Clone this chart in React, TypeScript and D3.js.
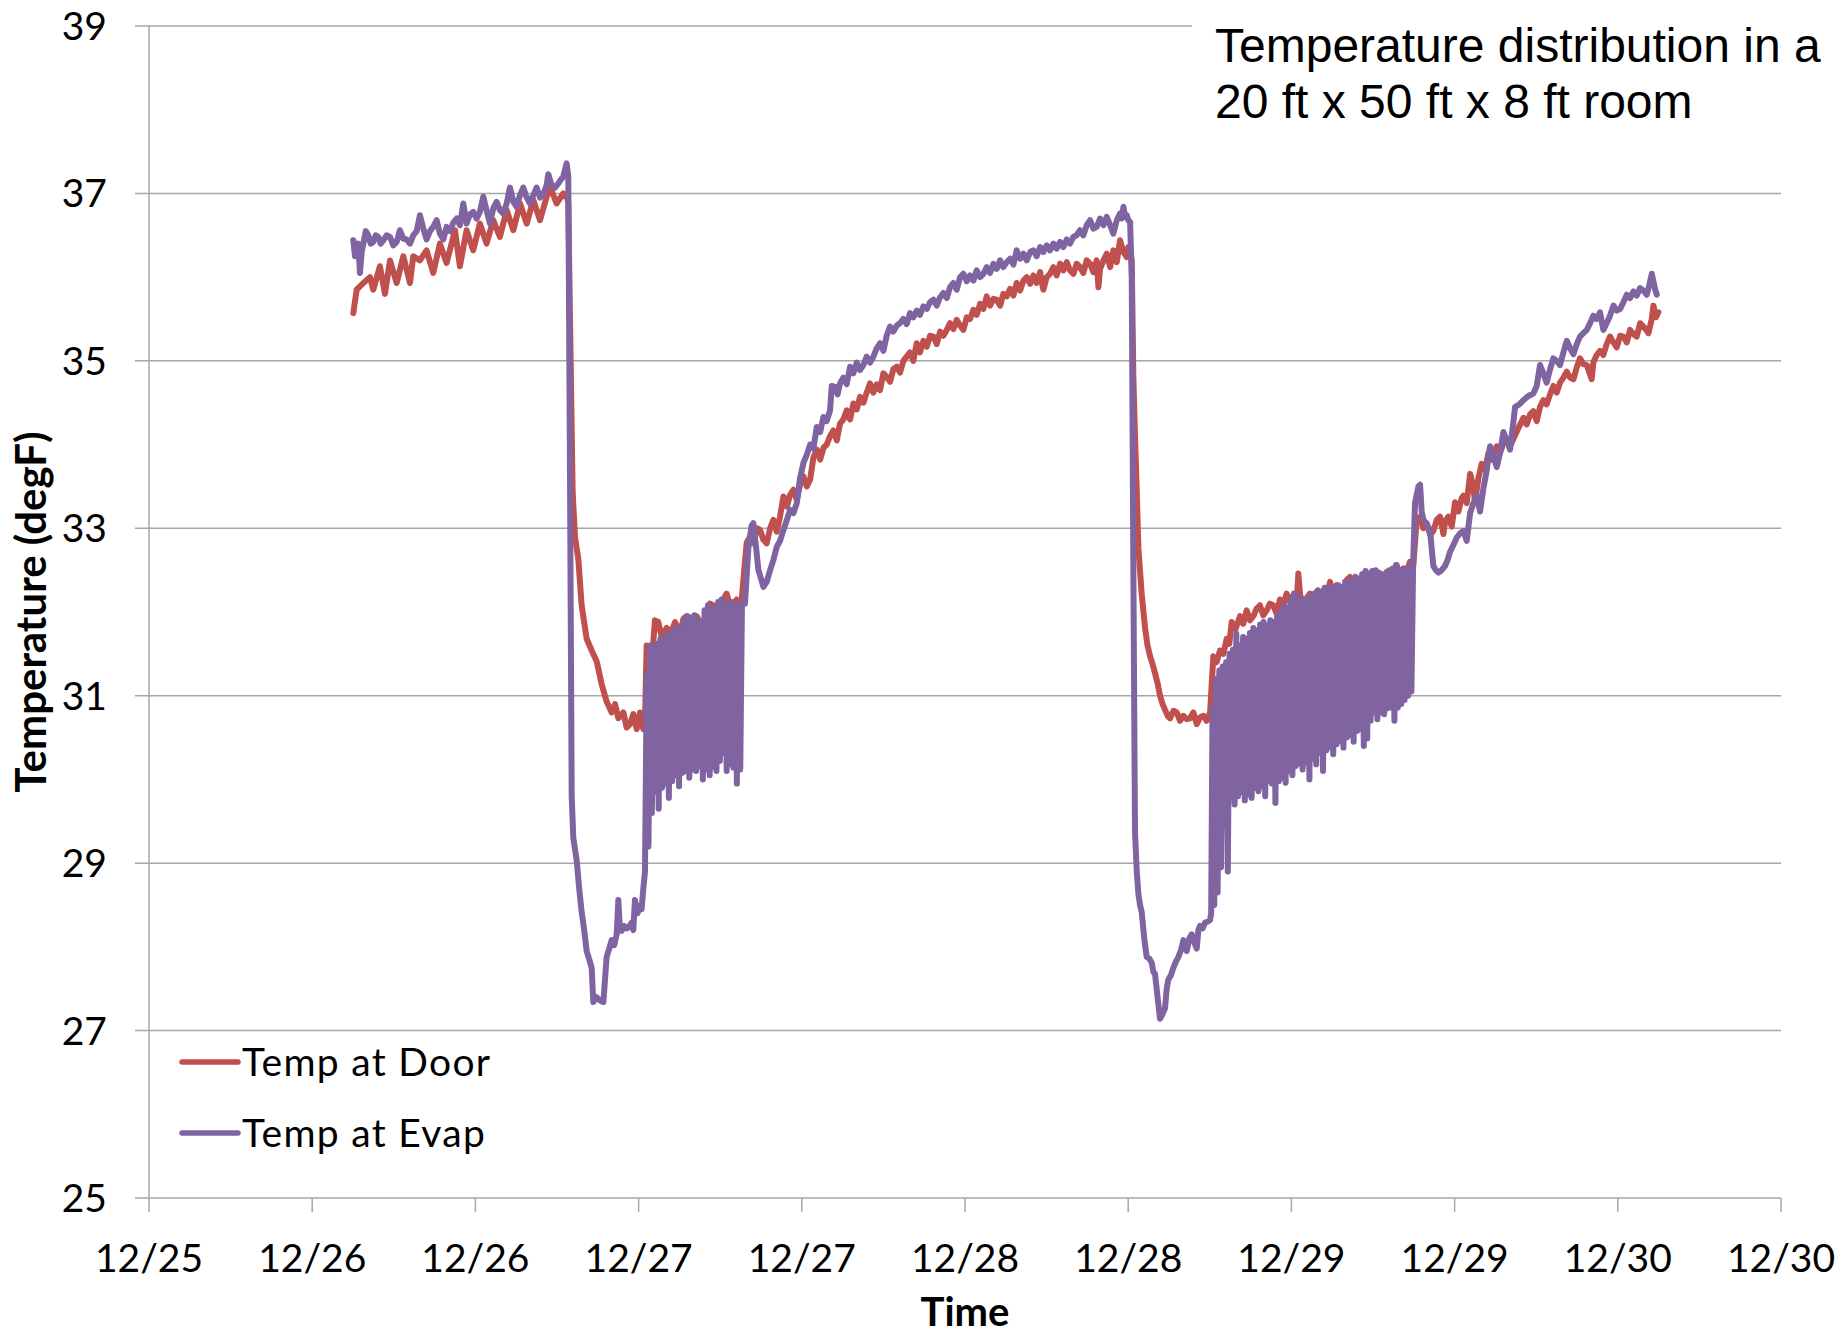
import React from 'react';
import * as d3 from 'd3';

// readings: [hours after 12/25 12:00, degF]
const doorReadings: [number, number][] = [
  [15.02,35.57],[15.27,35.85],[15.76,35.93],[16.25,36.0],[16.49,35.85],[16.98,36.13],[17.35,35.8],[17.72,36.2],[18.21,35.93],[18.7,36.25],[19.19,35.93],[19.43,36.25],[19.92,36.2],[20.41,36.32],[20.9,36.05],[21.39,36.4],[21.88,36.17],[22.5,36.56],[22.86,36.13],[23.35,36.56],[23.84,36.32],[24.33,36.64],[24.82,36.4],[25.31,36.68],[25.8,36.48],[26.3,36.8],[26.79,36.56],[27.28,36.88],[27.77,36.64],[28.26,36.92],[28.75,36.68],[29.24,36.96],[29.48,37.08],[29.97,36.88],[30.46,37.0],[30.71,36.96],[30.83,36.9],
  [30.96,35.47],[31.15,33.44],[31.32,32.9],[31.57,32.63],[31.81,32.08],[32.18,31.68],[32.55,31.54],[32.92,31.41],[33.28,31.14],[33.65,30.93],[34.02,30.8],[34.27,30.9],[34.51,30.73],[34.88,30.8],[35.12,30.62],[35.37,30.66],[35.61,30.78],[35.86,30.6],[36.1,30.8],[36.35,30.6],[36.47,30.7],
  [36.59,31.6],[36.83,31.45],[37.08,31.64],[37.2,31.9],[37.45,31.88],[37.7,31.7],[38.06,31.81],[38.3,31.72],[38.68,31.88],[39.04,31.74],[39.3,31.92],[39.53,31.95],[39.9,31.8],[40.27,31.95],[40.6,31.85],[41.0,31.95],[41.25,32.1],[41.49,32.08],[41.8,31.96],[42.23,32.15],[42.47,32.22],[42.8,32.04],[43.21,32.15],[43.45,32.02],[43.58,32.15],
  [43.82,32.6],[43.95,32.83],[44.2,32.9],[44.44,32.82],[44.69,33.0],[44.93,32.98],[45.18,32.86],[45.42,32.82],[45.67,33.0],[45.91,33.1],[46.16,32.96],[46.4,33.14],[46.65,33.38],[46.9,33.26],[47.14,33.4],[47.38,33.46],[47.63,33.34],[47.87,33.52],[48.12,33.62],[48.37,33.5],[48.61,33.58],[48.85,33.84],[49.1,33.94],[49.35,33.82],[49.59,33.96],[49.83,34.0],[50.08,34.1],[50.32,34.17],[50.57,34.05],[50.81,34.25],[51.06,34.3],[51.3,34.41],[51.55,34.3],[51.79,34.49],[52.04,34.42],[52.28,34.57],[52.53,34.5],[52.77,34.62],[53.02,34.73],[53.26,34.62],[53.51,34.72],[53.75,34.65],[54.0,34.85],[54.24,34.81],[54.49,34.75],[54.73,34.9],[54.98,34.93],[55.22,34.86],[55.47,35.0],[55.71,35.05],[55.96,35.1],[56.2,35.0],[56.45,35.21],[56.69,35.1],[56.94,35.24],[57.19,35.17],[57.43,35.3],[57.68,35.29],[57.92,35.2],[58.17,35.35],[58.41,35.3],[58.66,35.37],[58.9,35.45],[59.15,35.38],[59.39,35.49],[59.64,35.42],[59.88,35.37],[60.13,35.52],[60.37,35.5],[60.62,35.61],[60.86,35.55],[61.11,35.68],[61.35,35.62],[61.6,35.77],[61.84,35.66],[62.09,35.74],[62.33,35.73],[62.58,35.66],[62.82,35.8],[63.07,35.77],[63.31,35.86],[63.56,35.78],[63.8,35.93],[64.05,35.84],[64.3,35.96],[64.54,36.0],[64.79,35.92],[65.03,36.02],[65.27,35.93],[65.52,36.06],[65.76,35.85],[66.01,36.0],[66.25,36.04],[66.5,36.12],[66.74,36.02],[66.99,36.16],[67.23,36.08],[67.48,36.18],[67.72,36.08],[67.97,36.04],[68.21,36.16],[68.46,36.12],[68.7,36.05],[68.95,36.2],[69.2,36.16],[69.44,36.06],[69.68,36.2],[69.81,35.88],[69.93,36.1],[70.18,36.2],[70.42,36.28],[70.67,36.12],[70.91,36.32],[71.16,36.18],[71.4,36.44],[71.65,36.3],[71.89,36.24],[72.01,36.36],[72.14,36.3],[72.26,36.2],
  [72.38,34.8],[72.5,34.1],[72.63,33.44],[72.75,32.76],[72.99,32.22],[73.24,31.81],[73.42,31.6],[73.61,31.47],[73.79,31.38],[73.97,31.27],[74.16,31.15],[74.34,31.0],[74.53,30.9],[74.71,30.83],[74.9,30.76],[75.08,30.73],[75.33,30.82],[75.57,30.8],[75.81,30.7],[76.06,30.76],[76.3,30.72],[76.55,30.73],[76.79,30.8],[77.04,30.66],[77.28,30.74],[77.53,30.76],[77.77,30.7],[78.02,30.8],
  [78.26,31.47],[78.5,31.4],[78.75,31.54],[79.0,31.5],[79.24,31.68],[79.43,31.62],[79.61,31.88],[79.9,31.8],[80.22,31.95],[80.46,31.86],[80.71,32.02],[80.95,31.9],[81.2,31.95],[81.44,32.04],[81.69,32.08],[81.93,31.96],[82.18,32.02],[82.42,32.1],[82.67,32.08],[82.91,31.98],[83.16,32.15],[83.4,32.08],[83.65,32.22],[83.9,32.12],[84.15,32.2],[84.4,32.14],[84.51,32.46],[84.64,32.2],[84.76,31.95],[85.0,32.14],[85.37,32.22],[85.62,32.1],[85.86,32.24],[86.11,32.15],[86.35,32.26],[86.6,32.2],[86.84,32.36],[87.09,32.22],[87.33,32.32],[87.58,32.29],[87.82,32.2],[88.07,32.38],[88.31,32.42],[88.56,32.3],[88.8,32.4],[89.05,32.36],[89.29,32.3],[89.54,32.44],[89.78,32.42],[90.03,32.34],[90.27,32.44],[90.52,32.38],[90.76,32.42],[91.01,32.48],[91.25,32.38],[91.5,32.5],[91.74,32.56],[91.99,32.44],[92.23,32.52],[92.48,32.49],[92.72,32.6],[92.97,32.56],
  [93.21,33.1],[93.46,33.14],[93.7,33.0],[93.95,33.06],[94.2,32.92],[94.44,32.97],[94.69,33.1],[94.93,33.14],[95.18,32.93],[95.3,33.08],[95.54,33.14],[95.79,33.02],[96.03,33.31],[96.28,33.2],[96.52,33.36],[96.65,33.39],[96.89,33.3],[97.14,33.65],[97.38,33.5],[97.5,33.31],[97.75,33.6],[97.99,33.77],[98.24,33.7],[98.49,33.9],[98.73,33.82],[99.1,33.98],[99.34,33.9],[99.59,34.02],[99.83,34.07],[100.08,33.98],[100.45,34.11],[100.7,34.2],[101.06,34.32],[101.3,34.24],[101.55,34.36],[101.79,34.4],[102.04,34.28],[102.28,34.45],[102.53,34.53],[102.77,34.48],[103.02,34.6],[103.26,34.7],[103.51,34.62],[103.75,34.74],[104.0,34.8],[104.25,34.87],[104.49,34.8],[104.74,34.78],[104.98,34.92],[105.22,35.03],[105.47,34.96],[105.72,34.95],[106.08,34.78],[106.2,34.98],[106.45,35.07],[106.69,35.12],[106.94,35.07],[107.18,35.2],[107.43,35.29],[107.68,35.22],[107.92,35.16],[108.17,35.3],[108.41,35.29],[108.66,35.22],[108.9,35.37],[109.15,35.32],[109.39,35.29],[109.64,35.45],[109.88,35.41],[110.13,35.36],[110.25,35.33],[110.5,35.5],[110.62,35.66],[110.8,35.52],[110.98,35.58],
];

const evapBeforeCycling1: [number, number][] = [
  [15.02,36.44],[15.15,36.25],[15.27,36.3],[15.4,36.4],[15.51,36.05],[15.64,36.3],[15.76,36.4],[15.94,36.55],[16.12,36.5],[16.3,36.4],[16.49,36.42],[16.67,36.5],[16.86,36.48],[17.04,36.4],[17.23,36.44],[17.47,36.5],[17.72,36.48],[17.96,36.38],[18.21,36.42],[18.45,36.56],[18.7,36.46],[18.94,36.45],[19.19,36.4],[19.43,36.5],[19.68,36.55],[19.92,36.74],[20.17,36.58],[20.41,36.45],[20.66,36.55],[20.9,36.6],[21.15,36.68],[21.39,36.52],[21.64,36.45],[21.88,36.6],[22.13,36.55],[22.37,36.65],[22.62,36.7],[22.86,36.62],[23.11,36.88],[23.35,36.64],[23.6,36.75],[23.84,36.78],[24.09,36.7],[24.33,36.78],[24.58,36.96],[24.82,36.8],[25.07,36.64],[25.31,36.82],[25.56,36.9],[25.8,36.8],[26.05,36.76],[26.3,36.88],[26.54,37.07],[26.79,36.9],[27.03,36.84],[27.28,36.98],[27.52,37.07],[27.77,36.95],[28.01,36.88],[28.26,36.98],[28.5,37.07],[28.75,36.95],[28.99,36.99],[29.24,37.1],[29.36,37.23],[29.6,37.1],[29.85,37.07],[30.1,37.12],[30.22,37.15],[30.46,37.2],[30.71,37.36],[30.83,37.2],
  [30.96,33.5],[31.08,29.8],[31.2,29.3],[31.45,29.03],[31.63,28.7],[31.81,28.42],[32.0,28.2],[32.18,27.95],[32.37,27.85],[32.55,27.75],[32.67,27.34],[32.9,27.4],[33.16,27.36],[33.41,27.34],[33.65,27.88],[33.84,27.98],[34.02,28.08],[34.2,28.02],[34.39,28.15],[34.51,28.56],[34.63,28.2],[34.75,28.19],[34.94,28.25],[35.12,28.22],[35.3,28.24],[35.49,28.29],[35.61,28.2],[35.73,28.56],[35.92,28.4],[36.1,28.49],[36.22,28.45],[36.35,28.7],[36.47,28.9],
];

// compressor cycling at the evaporator, one reading every 7.5 min
const cycling1Start = 36.6;
const cycling1Temps = [
  31.25,29.2,31.6,29.6,31.55,29.85,31.62,29.65,31.68,29.9,31.65,29.95,31.74,29.78,31.7,29.98,31.78,30.05,31.82,29.92,
  31.75,30.08,31.9,30.1,31.95,30.02,31.93,30.12,31.96,30.1,31.9,30.16,31.88,30.0,32.02,30.12,32.08,30.05,32.0,30.15,
  32.04,30.1,32.12,30.22,32.15,30.32,32.1,30.1,32.08,30.18,32.12,30.14,32.05,29.95,32.1,30.12,32.1,
];

const evapBetweenCycling: [number, number][] = [
  [43.82,32.1],[44.07,32.76],[44.31,33.03],[44.44,33.06],[44.62,32.8],[44.81,32.5],[45.0,32.4],[45.18,32.3],[45.42,32.36],[45.67,32.5],[45.91,32.62],[46.16,32.78],[46.4,32.85],[46.65,32.98],[46.9,33.1],[47.14,33.22],[47.38,33.18],[47.63,33.3],[47.87,33.6],[48.12,33.78],[48.37,33.88],[48.61,34.0],[48.85,33.95],[49.1,34.21],[49.35,34.15],[49.59,34.33],[49.83,34.28],[50.08,34.41],[50.2,34.7],[50.45,34.69],[50.63,34.6],[50.81,34.73],[51.06,34.8],[51.3,34.72],[51.55,34.93],[51.79,34.85],[52.04,34.98],[52.28,34.89],[52.53,34.95],[52.77,35.05],[53.02,34.98],[53.26,35.05],[53.51,35.15],[53.75,35.21],[54.0,35.12],[54.24,35.3],[54.49,35.41],[54.73,35.35],[54.98,35.42],[55.22,35.45],[55.47,35.5],[55.71,35.44],[55.96,35.57],[56.2,35.52],[56.45,35.6],[56.69,35.55],[56.94,35.65],[57.19,35.62],[57.43,35.7],[57.68,35.73],[57.92,35.66],[58.17,35.76],[58.41,35.81],[58.66,35.75],[58.9,35.88],[59.15,35.93],[59.39,35.85],[59.64,36.0],[59.88,36.04],[60.13,35.95],[60.37,36.02],[60.62,35.96],[60.86,36.08],[61.11,36.0],[61.35,36.04],[61.6,36.12],[61.84,36.05],[62.09,36.16],[62.33,36.1],[62.58,36.2],[62.82,36.12],[63.07,36.18],[63.31,36.22],[63.56,36.15],[63.8,36.32],[64.05,36.22],[64.3,36.28],[64.54,36.2],[64.79,36.3],[65.03,36.32],[65.27,36.25],[65.52,36.36],[65.76,36.3],[66.01,36.38],[66.25,36.32],[66.5,36.4],[66.74,36.34],[66.99,36.42],[67.23,36.36],[67.48,36.45],[67.72,36.4],[67.97,36.48],[68.21,36.5],[68.46,36.56],[68.7,36.5],[68.95,36.62],[69.2,36.68],[69.44,36.58],[69.68,36.6],[69.93,36.7],[70.18,36.62],[70.42,36.72],[70.67,36.62],[70.91,36.52],[71.16,36.68],[71.4,36.76],[71.52,36.7],[71.65,36.84],[71.77,36.72],[71.89,36.74],[72.01,36.68],[72.14,36.66],
  [72.26,36.0],[72.38,32.5],[72.5,29.37],[72.63,28.9],[72.75,28.63],[72.87,28.5],[72.99,28.42],[73.18,28.1],[73.36,27.88],[73.55,27.86],[73.73,27.81],[73.85,27.7],[73.97,27.68],[74.16,27.4],[74.34,27.14],[74.53,27.2],[74.71,27.27],[74.83,27.5],[74.95,27.61],[75.14,27.66],[75.32,27.75],[75.5,27.82],[75.69,27.88],[75.88,27.96],[76.06,28.08],[76.18,28.02],[76.3,27.95],[76.49,28.1],[76.67,28.15],[76.86,28.05],[77.04,27.98],[77.16,28.2],[77.28,28.25],[77.47,28.22],[77.65,28.29],[77.83,28.3],[78.02,28.32],[78.1,28.4],
];

const cycling2Start = 78.2;
const cycling2Temps = [
  30.86,28.5,31.2,28.65,31.3,28.95,31.35,29.45,31.4,28.9,31.5,29.78,31.55,29.7,31.74,29.8,31.6,29.85,31.7,29.75,
  31.68,29.82,31.75,29.78,31.81,29.9,31.78,29.86,31.85,29.92,31.88,29.8,31.84,29.98,31.9,29.95,31.88,29.72,31.95,29.98,
  32.0,30.02,32.08,29.96,32.05,30.1,32.15,30.05,32.22,30.16,32.1,30.19,32.18,30.12,32.15,30.2,32.12,30.0,32.2,30.25,
  32.22,30.18,32.26,30.32,32.2,30.1,32.29,30.35,32.25,30.39,32.3,30.3,32.29,30.42,32.32,30.46,32.3,30.38,32.36,30.5,
  32.34,30.53,32.38,30.45,32.42,30.58,32.4,30.6,32.45,30.4,32.49,30.49,32.46,30.7,32.49,30.8,32.5,30.72,32.47,30.8,
  32.45,30.78,32.42,30.85,32.5,30.86,32.52,30.7,32.56,30.86,32.5,30.9,32.49,30.95,32.52,31.0,32.55,31.05,32.56,
];
const cyclingStep = 0.125;

const evapAfterCycling2: [number, number][] = [
  [93.09,33.3],[93.34,33.5],[93.46,33.52],[93.58,33.2],[93.71,33.1],[93.95,33.05],[94.2,32.97],[94.32,32.75],[94.44,32.55],[94.62,32.5],[94.81,32.47],[95.05,32.5],[95.3,32.55],[95.48,32.62],[95.67,32.72],[95.91,32.8],[96.16,32.89],[96.4,32.94],[96.65,32.97],[96.89,32.85],[97.14,33.18],[97.38,33.3],[97.63,33.39],[97.87,33.2],[98.12,33.48],[98.37,33.7],[98.61,33.98],[98.86,33.85],[99.1,33.73],[99.34,33.9],[99.59,34.15],[99.83,34.05],[100.08,33.94],[100.27,34.2],[100.45,34.45],[100.76,34.48],[101.06,34.53],[101.42,34.58],[101.79,34.61],[102.04,34.7],[102.28,34.95],[102.53,34.85],[102.77,34.74],[103.02,34.9],[103.26,35.03],[103.51,35.0],[103.75,34.95],[104.0,35.1],[104.25,35.24],[104.49,35.15],[104.74,35.08],[104.98,35.2],[105.22,35.29],[105.47,35.33],[105.72,35.37],[105.96,35.45],[106.2,35.54],[106.45,35.5],[106.69,35.58],[106.94,35.37],[107.18,35.45],[107.43,35.54],[107.68,35.66],[107.92,35.6],[108.17,35.62],[108.41,35.7],[108.66,35.79],[108.9,35.75],[109.15,35.83],[109.39,35.78],[109.64,35.87],[109.88,35.84],[110.13,35.79],[110.31,35.9],[110.5,36.04],[110.62,35.95],[110.75,35.85],[110.87,35.79],
];

const seriesNames = ['Temp at Door', 'Temp at Evap'];
const seriesColors = ['#C0504D', '#8064A2'];
const yTicks = [25, 27, 29, 31, 33, 35, 37, 39];
const titleLines = ['Temperature distribution in a', '20 ft x 50 ft x 8 ft room'];

const W = 1841;
const H = 1338;
const left = 149, right = 1781, top = 26, bottom = 1198;
const start = new Date(2011, 11, 25, 12);
const end = d3.timeHour.offset(start, 120);

const cycle = (t0: number, vals: number[]): [number, number][] =>
  vals.map((v, i) => [t0 + i * cyclingStep, v] as [number, number]);

const evapReadings: [number, number][] = [
  ...evapBeforeCycling1,
  ...cycle(cycling1Start, cycling1Temps),
  ...evapBetweenCycling,
  ...cycle(cycling2Start, cycling2Temps),
  ...evapAfterCycling2,
];

const App = () => {
  const x = d3.scaleTime().domain([start, end]).range([left, right]);
  const y = d3.scaleLinear().domain([25, 39]).range([bottom, top]);
  const xTicks = x.ticks(d3.timeHour.every(12) as any);
  const fmt = d3.timeFormat('%m/%d');
  const toDate = (h: number) => new Date(start.getTime() + h * 3600 * 1000);
  const line = d3.line<[number, number]>()
    .x(d => x(toDate(d[0])))
    .y(d => y(d[1]));
  const grid = '#a6a6a6';
  const font = 'Lato, sans-serif';
  const lw = 6;

  return (
    <svg width={W} height={H} style={{ position: 'absolute', left: 0, top: 0, background: '#fff' }}>
      <rect width={W} height={H} fill="#fff" />
      {yTicks.map(t => (
        <line key={t} x1={left - 14} x2={right} y1={y(t)} y2={y(t)} stroke={grid} strokeWidth={1.5} />
      ))}
      <line x1={left} x2={left} y1={top} y2={bottom} stroke={grid} strokeWidth={1.5} />
      {xTicks.map((t, i) => (
        <g key={i}>
          <line x1={x(t)} x2={x(t)} y1={bottom} y2={bottom + 14} stroke={grid} strokeWidth={1.5} />
          <text x={x(t)} y={1272} textAnchor="middle" fontFamily={font} fontSize={39} fill="#000">{fmt(t)}</text>
        </g>
      ))}
      {yTicks.map(t => (
        <text key={t} x={107} y={y(t) + 14} textAnchor="end" fontFamily={font} fontSize={39} fill="#000">{t}</text>
      ))}
      <rect x={1192} y={0} width={W - 1192} height={150} fill="#fff" />
      {titleLines.map((s, i) => (
        <text key={i} x={1215} y={62 + i * 56} fontFamily="'Liberation Sans', Arial, sans-serif" fontSize={48} fill="#000">{s}</text>
      ))}
      <path d={line(doorReadings) || ''} fill="none" stroke={seriesColors[0]} strokeWidth={lw} strokeLinejoin="round" strokeLinecap="round" />
      <path d={line(evapReadings) || ''} fill="none" stroke={seriesColors[1]} strokeWidth={lw} strokeLinejoin="round" strokeLinecap="round" />
      {seriesNames.map((s, i) => (
        <g key={s}>
          <line x1={182} x2={238} y1={1062 + i * 71} y2={1062 + i * 71} stroke={seriesColors[i]} strokeWidth={5.5} strokeLinecap="round" />
          <text x={242} y={1062 + i * 71 + 14} fontFamily={font} fontSize={39} letterSpacing={1.3} fill="#000">{s}</text>
        </g>
      ))}
      <text x={(left + right) / 2} y={1326} textAnchor="middle" fontFamily={font} fontWeight="bold" fontSize={40} fill="#000">Time</text>
      <text transform={`translate(46, ${(top + bottom) / 2}) rotate(-90)`} textAnchor="middle" fontFamily={font} fontWeight="bold" fontSize={42} fill="#000">Temperature (degF)</text>
    </svg>
  );
};

export default App;
